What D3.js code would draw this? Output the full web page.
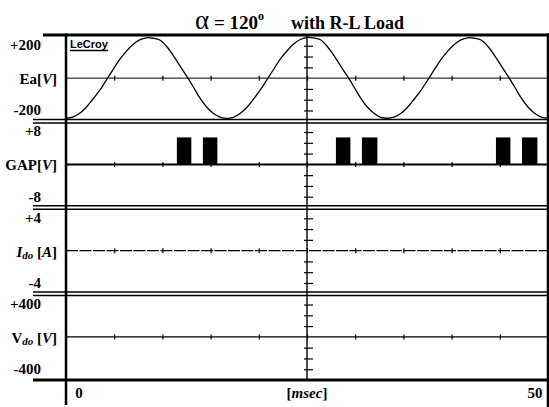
<!DOCTYPE html>
<html><head><meta charset="utf-8">
<script src="https://cdn.jsdelivr.net/npm/d3@7"></script>
<style>body{margin:0;background:#fff}svg{display:block}</style>
</head><body><svg id="c" width="549" height="407"></svg>
<script>
// ---------- data ----------
const timeDomain = [0, 50];                 // msec
const xTickLabels = ["0", "[msec]", "50"];
const channelMax = [200, 8, 4, 400];
const channelTopLabels = ["+200", "+8", "+4", "+400"];
const channelBottomLabels = ["-200", "-8", "-4", "-400"];
const eaStep = 50 / 72;                     // msec between Ea samples
const eaValues = [
  -186, -181, -164, -136, -98, -58, -10, 38, 86, 124, 156, 177,
   187,  185,  177,  148, 106,  58,  10, -40, -92, -134, -163, -181,
  -187, -182, -164, -136, -98, -56, -8, 40, 88, 126, 158, 179,
   189,  186,  178,  148, 106,  58,  10, -40, -92, -134, -163, -182,
  -186, -181, -164, -136, -98, -58, -10, 38, 86, 124, 156, 177,
   187,  185,  177,  148, 106,  58,  10, -40, -92, -134, -163, -181,
  -186
];
const gapPulseStart = [11.5, 14.2, 28.0, 30.7, 44.6, 47.3];
const gapPulseEnd   = [13.0, 15.7, 29.5, 32.3, 46.1, 48.9];
const gapPulseLevel = 5;
const idoTimes = [0, 50];
const idoValues = [0, 0];
const vdoTimes = [0, 50];
const vdoValues = [0, 0];

// ---------- layout ----------
const svg = d3.select("#c");
const L = 66, R = 548, T = 35, B = 380;
const ph = (B - T) / 4;
const serif = "'Liberation Serif','Times New Roman',serif";
const x = d3.scaleLinear().domain(timeDomain).range([L, R]);
const ys = channelMax.map((m, i) =>
  d3.scaleLinear().domain([-m, m]).range([T + (i + 1) * ph, T + i * ph]));
const xc = x(25);

// ---------- frame ----------
const g = svg.append("g");
for (let i = 1; i < 4; i++) {
  const b = T + i * ph;
  [-1.8, 1.8].forEach(o => g.append("line").attr("x1", 33).attr("x2", R)
    .attr("y1", b + o).attr("y2", b + o).attr("stroke", "#000").attr("stroke-width", 1.4));
}
g.append("line").attr("x1", 43).attr("x2", R + 1).attr("y1", T).attr("y2", T)
  .attr("stroke", "#000").attr("stroke-width", 3);
g.append("line").attr("x1", 33).attr("x2", R + 1).attr("y1", B).attr("y2", B)
  .attr("stroke", "#000").attr("stroke-width", 3);
g.append("line").attr("x1", L).attr("x2", L).attr("y1", T - 1.5).attr("y2", 405)
  .attr("stroke", "#000").attr("stroke-width", 2.5);
g.append("line").attr("x1", R).attr("x2", R).attr("y1", T - 1.5).attr("y2", 407)
  .attr("stroke", "#000").attr("stroke-width", 2.5);
g.append("line").attr("x1", xc).attr("x2", xc).attr("y1", T).attr("y2", B)
  .attr("stroke", "#000").attr("stroke-width", 1.4);

// center graticule ticks per panel
ys.forEach((y, i) => {
  const m = channelMax[i];
  const cy = y(0);
  const ax = d3.axisBottom(x).ticks(10).tickSize(5).tickFormat("");
  const ag = svg.append("g").attr("transform", `translate(0,${cy - 2.5})`).call(ax);
  ag.select(".domain").remove();
  ag.selectAll("line").attr("stroke-width", 1.2);
  const ay = d3.axisRight(y).tickValues([-3, -2, -1, 1, 2, 3].map(k => k * m / 4))
    .tickSize(9).tickFormat("");
  const vg = svg.append("g").attr("transform", `translate(${xc - 3},0)`).call(ay);
  vg.select(".domain").remove();
  vg.selectAll("line").attr("stroke-width", 1.2);
});
svg.append("line").attr("x1", L).attr("x2", R).attr("y1", ys[0](0)).attr("y2", ys[0](0))
  .attr("stroke", "#000").attr("stroke-width", 1);

// ---------- traces ----------
svg.append("path").datum(eaValues)
  .attr("d", d3.line().x((d, i) => x(i * eaStep)).y(d => ys[0](d)).curve(d3.curveCatmullRom))
  .attr("fill", "none").attr("stroke", "#000").attr("stroke-width", 1.3);

svg.append("line").attr("x1", L).attr("x2", R).attr("y1", ys[1](0)).attr("y2", ys[1](0))
  .attr("stroke", "#000").attr("stroke-width", 2);
svg.selectAll(".pulse").data(gapPulseStart).enter().append("rect")
  .attr("x", (d) => x(d)).attr("width", (d, i) => x(gapPulseEnd[i]) - x(d))
  .attr("y", ys[1](gapPulseLevel)).attr("height", ys[1](0) - ys[1](gapPulseLevel))
  .attr("fill", "#000");

svg.append("path").datum(idoValues)
  .attr("d", d3.line().x((d, i) => x(idoTimes[i])).y(d => ys[2](d)))
  .attr("fill", "none").attr("stroke", "#000").attr("stroke-width", 1.2)
  .attr("stroke-dasharray", "12 1.5");
svg.append("path").datum(vdoValues)
  .attr("d", d3.line().x((d, i) => x(vdoTimes[i])).y(d => ys[3](d)))
  .attr("fill", "none").attr("stroke", "#000").attr("stroke-width", 1.2);

// ---------- text ----------
const txt = (xx, yy, anchor, size) => svg.append("text").attr("x", xx).attr("y", yy)
  .attr("text-anchor", anchor).attr("font-family", serif).attr("font-weight", "bold")
  .attr("font-size", size).attr("dominant-baseline", "central");

ys.forEach((y, i) => {
  txt(41, T + i * ph + 10, "end", 15).text(channelTopLabels[i]);
  txt(41, T + (i + 1) * ph - 11, "end", 15).text(channelBottomLabels[i]);
});
{
  let t = txt(57, ys[0](0) + 1, "end", 15);
  t.append("tspan").text("Ea[");
  t.append("tspan").attr("font-style", "italic").text("V");
  t.append("tspan").text("]");
  t = txt(57, ys[1](0) + 1, "end", 15);
  t.append("tspan").text("GAP[");
  t.append("tspan").attr("font-style", "italic").text("V");
  t.append("tspan").text("]");
  t = txt(57, ys[2](0) + 1, "end", 15);
  t.append("tspan").attr("font-style", "italic").text("I");
  t.append("tspan").attr("font-style", "italic").attr("font-size", 11).attr("dy", 3).text("do");
  t.append("tspan").attr("dy", -3).text(" [");
  t.append("tspan").attr("font-style", "italic").text("A");
  t.append("tspan").text("]");
  t = txt(57, ys[3](0) + 1, "end", 15);
  t.append("tspan").text("V");
  t.append("tspan").attr("font-style", "italic").attr("font-size", 11).attr("dy", 3).text("do");
  t.append("tspan").attr("dy", -3).text(" [");
  t.append("tspan").attr("font-style", "italic").text("V");
  t.append("tspan").text("]");
}
txt(x(0) + 13, 393, "middle", 15).text(xTickLabels[0]);
{
  const t = txt(x(25), 393, "middle", 15);
  t.append("tspan").text("[");
  t.append("tspan").attr("font-style", "italic").text("msec");
  t.append("tspan").text("]");
}
txt(x(50) - 13, 393, "middle", 15).text(xTickLabels[2]);

// LeCroy logo
svg.append("text").attr("x", 70).attr("y", 48).attr("font-family", "'Liberation Sans',Arial,sans-serif")
  .attr("font-weight", "bold").attr("font-size", 11).text("LeCroy");
svg.append("line").attr("x1", 70).attr("x2", 108).attr("y1", 50.5).attr("y2", 50.5)
  .attr("stroke", "#000").attr("stroke-width", 1.3);

// title
{
  const t = svg.append("text").attr("x", 195).attr("y", 29).attr("font-family", serif)
    .attr("font-weight", "bold");
  t.append("tspan").attr("font-size", 27).attr("font-weight", "normal").text("α");
  t.append("tspan").attr("font-size", 19).text(" = 120");
  t.append("tspan").attr("font-size", 12).attr("dy", -9).text("o");
  svg.append("text").attr("x", 291).attr("y", 29).attr("font-family", serif)
    .attr("font-weight", "bold").attr("font-size", 18).text("with R-L Load");
}
</script></body></html>
